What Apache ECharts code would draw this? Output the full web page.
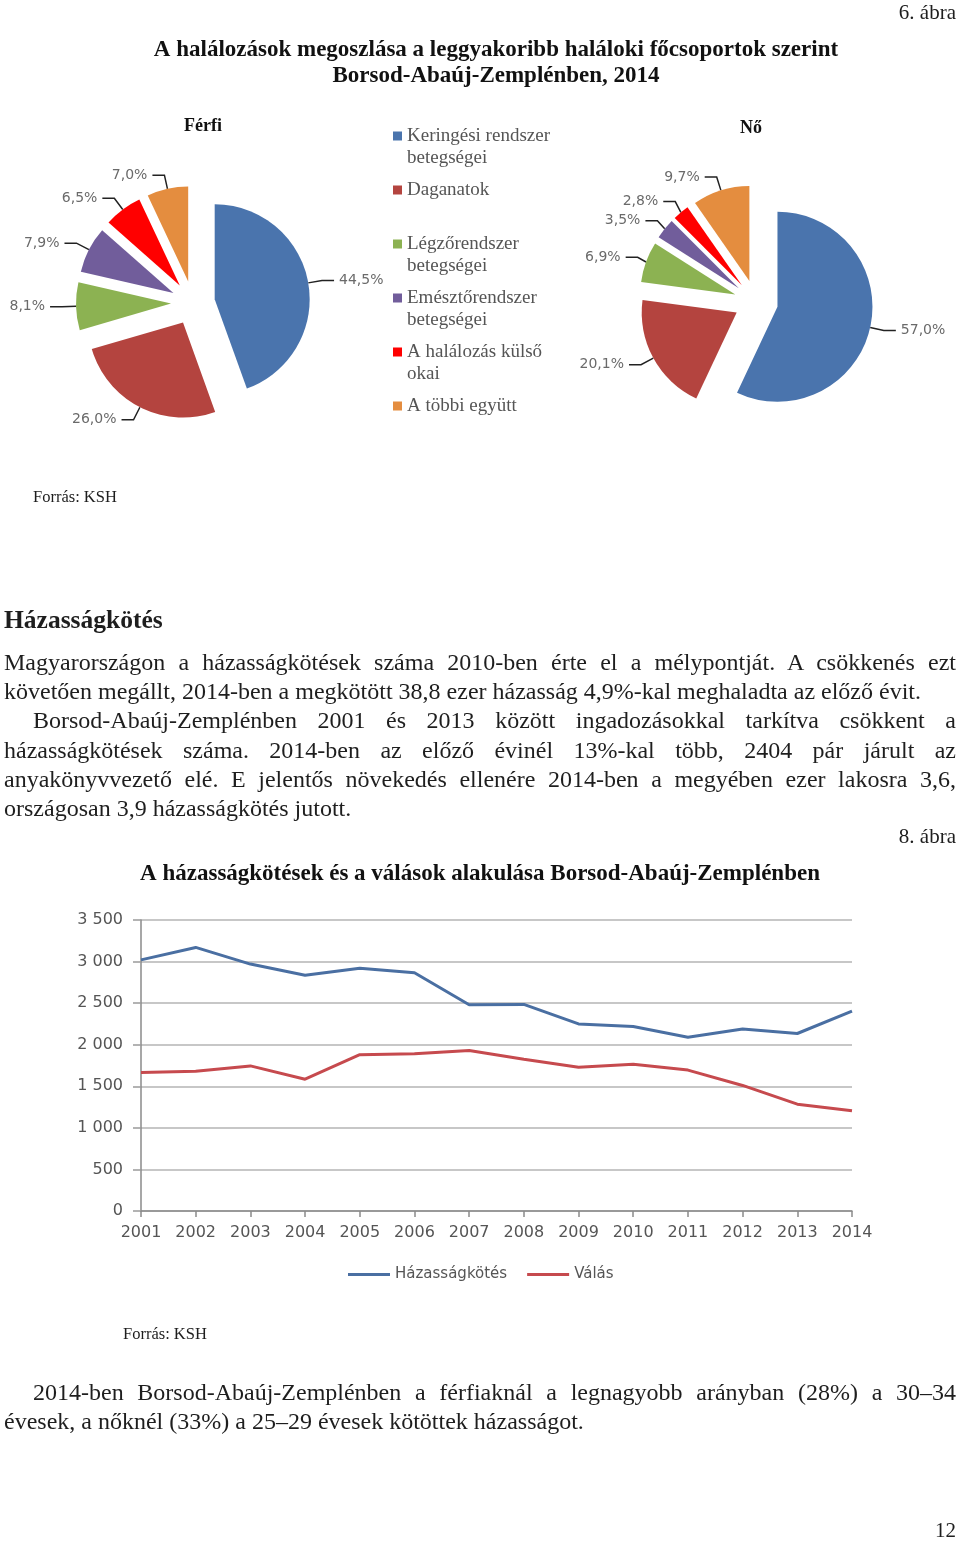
<!DOCTYPE html>
<html>
<head>
<meta charset="utf-8">
<script src="https://cdn.jsdelivr.net/npm/echarts@6/dist/echarts.min.js"></script>
<style>
  html, body { margin:0; padding:0; background:#fff; }
  #page { position:relative; width:960px; height:1541px; overflow:hidden; }
  #chart { position:absolute; left:0; top:0; width:960px; height:1541px; }
  .t { position:absolute; font-family:"Liberation Serif", serif; color:#1e1e1e; white-space:nowrap; }
  .l { position:absolute; left:4px; right:4px; font-family:"Liberation Serif", serif; color:#1e1e1e;
       font-size:24px; line-height:29px; height:29px; white-space:nowrap; text-align:left; }
  .j { text-align:justify; text-align-last:justify; }
  .ind { left:33px; }
</style>
</head>
<body>
<div id="page">
  <div id="chart"></div>
  <div class="t" style="right:4px; top:0px; font-size:21px; line-height:24px;">6. ábra</div>
  <div class="t" style="left:33px; top:487px; font-size:16.5px; line-height:20px;">Forrás: KSH</div>
  <div class="t" style="left:4px; top:605px; font-size:25.5px; line-height:30px; font-weight:bold;">Házasságkötés</div>

  <div class="l j" style="top:648px;">Magyarországon a házasságkötések száma 2010-ben érte el a mélypontját. A csökkenés ezt</div>
  <div class="l" style="top:677px;">követően megállt, 2014-ben a megkötött 38,8 ezer házasság 4,9%-kal meghaladta az előző évit.</div>
  <div class="l j ind" style="top:706px;">Borsod-Abaúj-Zemplénben 2001 és 2013 között ingadozásokkal tarkítva csökkent a</div>
  <div class="l j" style="top:736px;">házasságkötések száma. 2014-ben az előző évinél 13%-kal több, 2404 pár járult az</div>
  <div class="l j" style="top:765px;">anyakönyvvezető elé. E jelentős növekedés ellenére 2014-ben a megyében ezer lakosra 3,6,</div>
  <div class="l" style="top:794px;">országosan 3,9 házasságkötés jutott.</div>

  <div class="t" style="right:4px; top:824px; font-size:21px; line-height:24px;">8. ábra</div>
  <div class="t" style="left:123px; top:1324px; font-size:16.5px; line-height:20px;">Forrás: KSH</div>

  <div class="l j ind" style="top:1378px;">2014-ben Borsod-Abaúj-Zemplénben a férfiaknál a legnagyobb arányban (28%) a 30–34</div>
  <div class="l" style="top:1407px;">évesek, a nőknél (33%) a 25–29 évesek kötöttek házasságot.</div>
  <div class="t" style="right:4px; top:1518px; font-size:21px; line-height:24px;">12</div>
</div>
<script>
// ---- Data ----
const causes = ['Keringési rendszer betegségei', 'Daganatok', 'Légzőrendszer betegségei',
                'Emésztőrendszer betegségei', 'A halálozás külső okai', 'A többi együtt'];
const maleShares = [44.5, 26.0, 8.1, 7.9, 6.5, 7.0];
const femaleShares = [57.0, 20.1, 6.9, 3.5, 2.8, 9.7];
const years = ['2001','2002','2003','2004','2005','2006','2007','2008','2009','2010','2011','2012','2013','2014'];
const marriages = [3020, 3170, 2970, 2835, 2920, 2865, 2480, 2485, 2250, 2220, 2090, 2190, 2135, 2404];
const divorces  = [1665, 1680, 1745, 1585, 1880, 1890, 1930, 1825, 1730, 1765, 1695, 1510, 1285, 1205];
const lineSeriesNames = ['Házasságkötés', 'Válás'];

// ---- Styling helpers ----
const pieColors = ['#4a74ad', '#b4443f', '#8cb252', '#715d9b', '#ff0000', '#e48d3f'];
const legendWrap = {
  'Keringési rendszer betegségei': 'Keringési rendszer\nbetegségei',
  'Légzőrendszer betegségei': 'Légzőrendszer\nbetegségei',
  'Emésztőrendszer betegségei': 'Emésztőrendszer\nbetegségei',
  'A halálozás külső okai': 'A halálozás külső\nokai'
};
const pct = v => v.toFixed(1).replace('.', ',') + '%';
const thousands = v => String(v).replace(/\B(?=(\d{3})+(?!\d))/g, '\u00a0');

function pieSeries(name, values, center) {
  return {
    type: 'pie', name: name, center: center, radius: 95,
    startAngle: 90, clockwise: true,
    selectedMode: 'multiple', selectedOffset: 22,
    avoidLabelOverlap: true,
    emphasis: { scale: false },
    itemStyle: { borderWidth: 0 },
    data: causes.map((c, i) => ({ name: c, value: values[i], selected: true })),
    label: { formatter: p => pct(p.value), color: '#6a6a6a', fontFamily: 'DejaVu Sans', fontSize: 14 },
    labelLine: { show: true, length: 14, length2: 12, lineStyle: { color: '#222', width: 1.5 } }
  };
}

const chart = echarts.init(document.getElementById('chart'), null, { renderer: 'canvas' });
const serif = 'Liberation Serif';
chart.setOption({
  animation: false,
  color: pieColors,
  title: [
    { text: 'A halálozások megoszlása a leggyakoribb haláloki főcsoportok szerint\nBorsod-Abaúj-Zemplénben, 2014',
      left: 496, top: 37, padding: 0, textAlign: 'center',
      textStyle: { fontFamily: serif, fontWeight: 'bold', fontSize: 23, lineHeight: 26, color: '#111' } },
    { text: 'Férfi', left: 203, top: 117, padding: 0, textAlign: 'center',
      textStyle: { fontFamily: serif, fontWeight: 'bold', fontSize: 18, color: '#111' } },
    { text: 'Nő', left: 751, top: 119, padding: 0, textAlign: 'center',
      textStyle: { fontFamily: serif, fontWeight: 'bold', fontSize: 18, color: '#111' } },
    { text: 'A házasságkötések és a válások alakulása Borsod-Abaúj-Zemplénben',
      left: 480, top: 863, padding: 0, textAlign: 'center',
      textStyle: { fontFamily: serif, fontWeight: 'bold', fontSize: 23, color: '#111' } }
  ],
  legend: [
    { orient: 'vertical', left: 393, top: 103, padding: 0, itemGap: -12,
      icon: 'rect', itemWidth: 9, itemHeight: 9, selectedMode: false,
      data: causes,
      formatter: n => '\n' + (legendWrap[n] || (n + '\n ')),
      textStyle: { fontFamily: serif, fontSize: 19, lineHeight: 22, color: '#555' } },
    { orient: 'horizontal', left: 348, top: 1267, padding: 0, itemGap: 20,
      icon: 'rect', itemWidth: 42, itemHeight: 3, selectedMode: false,
      data: lineSeriesNames,
      textStyle: { fontFamily: 'DejaVu Sans', fontSize: 15, color: '#555' } }
  ],
  grid: { left: 141, top: 920, width: 711, height: 291 },
  xAxis: {
    type: 'category', data: years, boundaryGap: false,
    axisLine: { lineStyle: { color: '#8a8a8a', width: 1.5 } },
    axisTick: { show: true, length: 6, lineStyle: { color: '#8a8a8a', width: 1.5 } },
    axisLabel: { margin: 14, fontFamily: 'DejaVu Sans', fontSize: 16, color: '#555' }
  },
  yAxis: {
    type: 'value', min: 0, max: 3500, interval: 500,
    axisLine: { show: true, lineStyle: { color: '#8a8a8a', width: 1.5 } },
    axisTick: { show: true, length: 8, lineStyle: { color: '#9a9a9a', width: 1.5 } },
    splitLine: { lineStyle: { color: '#b5b5b5', width: 1.5 } },
    axisLabel: { margin: 18, fontFamily: 'DejaVu Sans', fontSize: 16, color: '#555', formatter: thousands }
  },
  series: [
    pieSeries('Férfi', maleShares, [193, 303]),
    pieSeries('Nő', femaleShares, [756, 302]),
    { type: 'line', name: lineSeriesNames[0], data: marriages, symbol: 'none',
      color: '#4a6fa2', lineStyle: { width: 3, color: '#4a6fa2' } },
    { type: 'line', name: lineSeriesNames[1], data: divorces, symbol: 'none',
      color: '#c64a4e', lineStyle: { width: 3, color: '#c64a4e' } }
  ]
});
</script>
</body>
</html>
